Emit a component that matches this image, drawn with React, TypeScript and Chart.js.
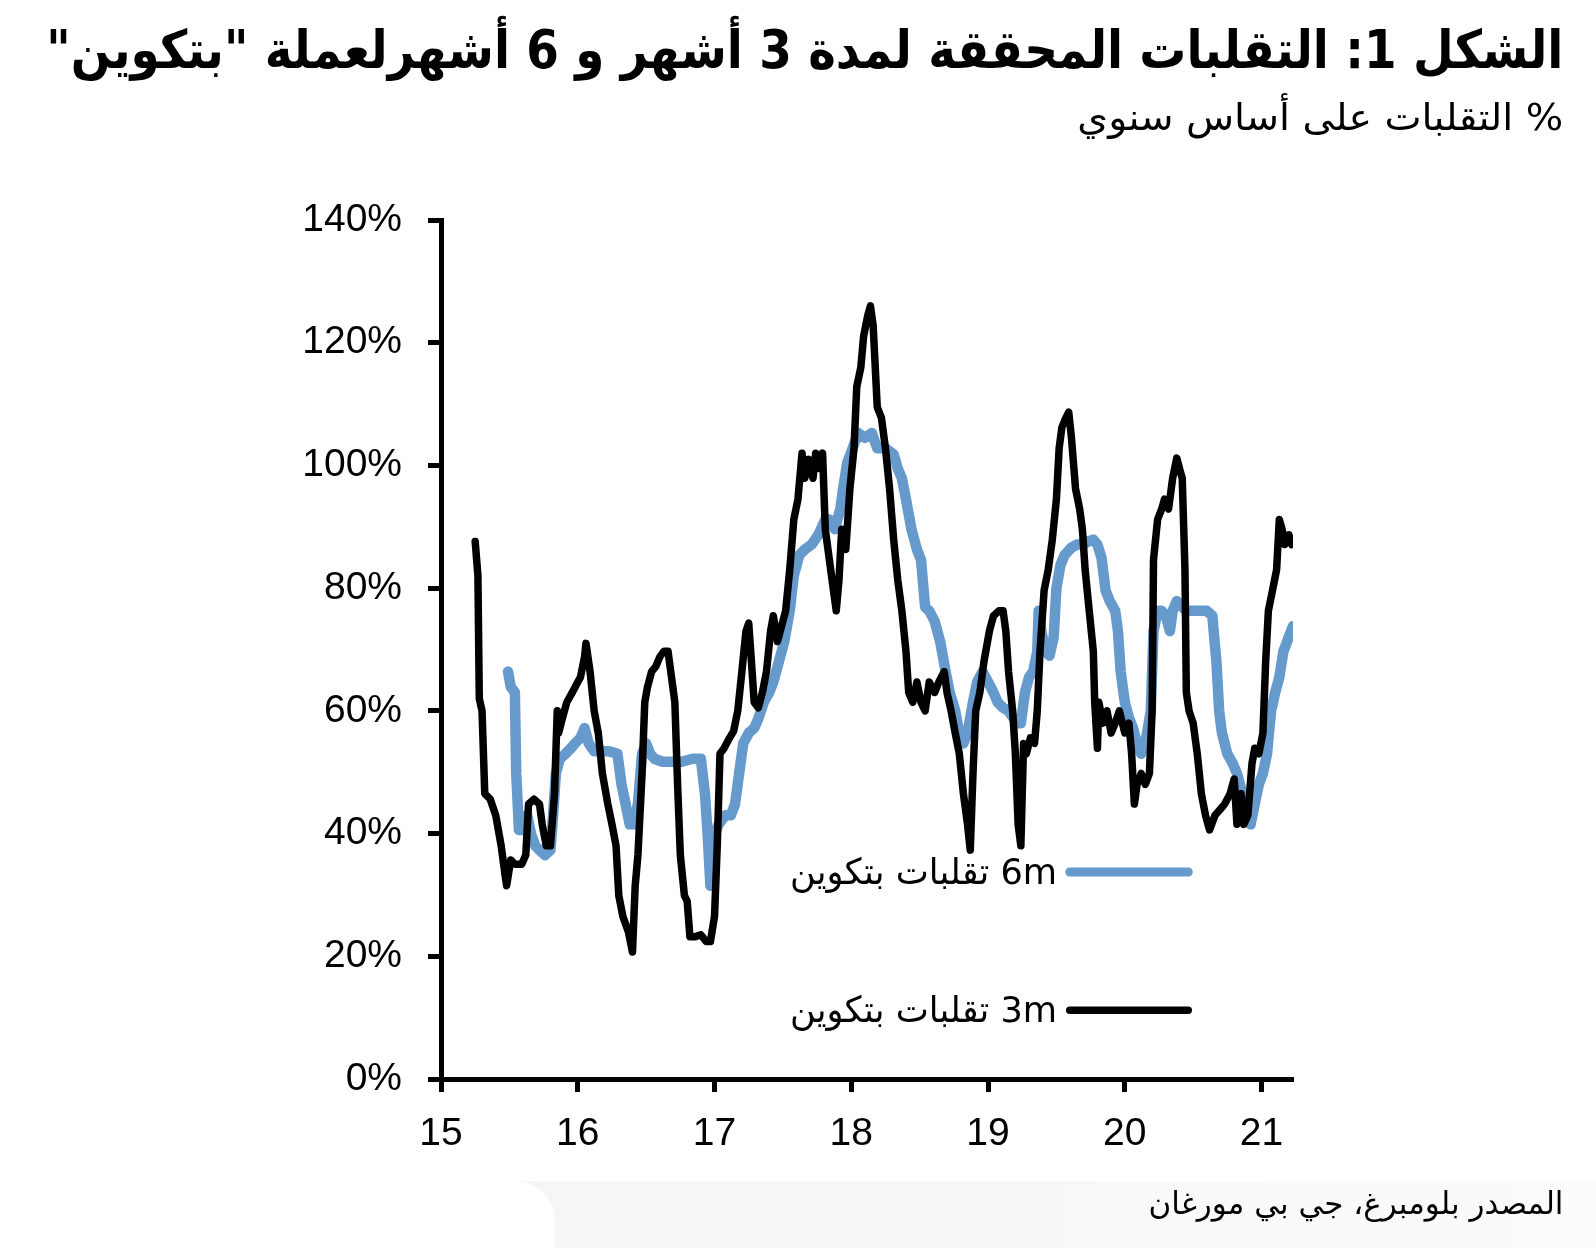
import React, { useEffect, useRef } from 'react';
import { Chart, registerables } from 'chart.js';

Chart.register(...registerables);

const TITLE = 'الشكل 1: التقلبات المحققة لمدة 3 أشهر و 6 أشهرلعملة "بتكوين"';
const SUBTITLE = '% التقلبات على أساس سنوي';
const SOURCE = 'المصدر بلومبرغ، جي بي مورغان';
const LABEL_6M = '6m تقلبات بتكوين';
const LABEL_3M = '3m تقلبات بتكوين';

const X_MIN = 15;
const X_MAX = 21.23;
const Y_MIN = 0;
const Y_MAX = 140;
const Y_STEP = 20;
const YEAR_TICKS = [15, 16, 17, 18, 19, 20, 21];

// 3-month realised volatility (black)
const years3m = [
  15.25, 15.27, 15.28, 15.30, 15.32, 15.36, 15.40, 15.44, 15.47, 15.48,
  15.51, 15.54, 15.59, 15.62, 15.64, 15.68, 15.72, 15.74, 15.77, 15.80,
  15.83, 15.85, 15.86, 15.89, 15.92, 15.96, 16.00, 16.02, 16.05, 16.06,
  16.09, 16.12, 16.15, 16.18, 16.22, 16.25, 16.28, 16.30, 16.33, 16.37,
  16.40, 16.42, 16.44, 16.47, 16.49, 16.51, 16.54, 16.57, 16.60, 16.63,
  16.66, 16.68, 16.71, 16.73, 16.75, 16.78, 16.80, 16.82, 16.86, 16.90,
  16.94, 16.97, 17.00, 17.02, 17.04, 17.07, 17.11, 17.14, 17.17, 17.20,
  17.23, 17.25, 17.27, 17.29, 17.32, 17.35, 17.38, 17.41, 17.43, 17.46,
  17.49, 17.52, 17.55, 17.58, 17.61, 17.64, 17.66, 17.69, 17.72, 17.74,
  17.77, 17.79, 17.81, 17.84, 17.87, 17.89, 17.91, 17.93, 17.96, 17.99,
  18.02, 18.04, 18.07, 18.09, 18.12, 18.14, 18.16, 18.19, 18.22, 18.25,
  18.28, 18.31, 18.34, 18.37, 18.40, 18.42, 18.45, 18.48, 18.51, 18.54,
  18.57, 18.61, 18.64, 18.68, 18.70, 18.73, 18.76, 18.79, 18.82, 18.85,
  18.87, 18.89, 18.91, 18.94, 18.97, 19.01, 19.04, 19.08, 19.11, 19.13,
  19.15, 19.18, 19.20, 19.22, 19.24, 19.26, 19.28, 19.31, 19.34, 19.36,
  19.38, 19.41, 19.44, 19.47, 19.50, 19.52, 19.54, 19.57, 19.59, 19.61,
  19.64, 19.67, 19.69, 19.71, 19.74, 19.77, 19.78, 19.80, 19.81, 19.84,
  19.87, 19.90, 19.93, 19.96, 20.00, 20.03, 20.05, 20.07, 20.09, 20.12,
  20.15, 20.18, 20.20, 20.21, 20.24, 20.27, 20.29, 20.32, 20.35, 20.38,
  20.40, 20.42, 20.44, 20.45, 20.47, 20.50, 20.53, 20.56, 20.59, 20.62,
  20.66, 20.70, 20.73, 20.77, 20.80, 20.82, 20.85, 20.87, 20.90, 20.93,
  20.95, 20.98, 21.01, 21.03, 21.05, 21.08, 21.11, 21.13, 21.15, 21.17,
  21.20, 21.22,
];
const vol3m = [
  87.6, 82.0, 62.0, 60.0, 46.5, 45.6, 43.0, 38.0, 33.0, 31.5,
  35.7, 35.0, 35.0, 36.5, 44.8, 45.6, 44.8, 41.5, 38.0, 38.0,
  46.5, 60.0, 56.4, 59.0, 61.4, 63.0, 64.7, 65.5, 68.8, 71.0,
  66.4, 60.0, 56.4, 49.8, 44.8, 41.5, 38.0, 29.9, 26.5, 24.0,
  20.7, 31.5, 36.5, 49.8, 61.4, 63.9, 66.4, 67.2, 68.8, 69.7,
  69.7, 66.4, 61.4, 48.0, 36.5, 29.9, 29.0, 23.2, 23.2, 23.5,
  22.4, 22.4, 26.5, 38.0, 53.0, 53.9, 55.6, 56.7, 60.0, 66.4,
  73.0, 74.3, 68.0, 61.4, 60.5, 63.0, 66.4, 73.0, 75.5, 71.3,
  73.8, 76.3, 83.0, 91.2, 94.5, 102.0, 97.9, 101.0, 97.9, 102.0,
  99.5, 102.0, 89.6, 84.6, 79.6, 76.3, 81.3, 89.6, 86.3, 96.2,
  102.8, 112.8, 116.0, 121.0, 124.4, 126.0, 122.8, 109.5, 107.8, 102.8,
  96.2, 87.9, 81.3, 76.3, 69.7, 63.0, 61.4, 64.7, 61.4, 60.0,
  64.7, 63.0, 64.7, 66.4, 63.0, 60.0, 56.4, 53.0, 46.5, 41.5,
  37.3, 49.8, 60.0, 63.0, 68.0, 73.0, 75.5, 76.3, 76.3, 73.0,
  66.4, 60.0, 53.0, 41.5, 38.0, 54.7, 53.0, 55.6, 54.7, 60.0,
  69.7, 79.6, 83.0, 87.9, 94.5, 102.8, 106.2, 107.8, 108.7, 104.5,
  96.2, 92.9, 89.6, 83.0, 76.3, 69.7, 61.4, 53.9, 61.4, 58.0,
  60.0, 56.4, 58.0, 60.0, 56.4, 58.0, 53.0, 44.8, 48.0, 49.8,
  48.0, 49.8, 60.0, 84.6, 91.2, 92.9, 94.5, 92.9, 97.9, 101.2,
  99.5, 97.9, 83.0, 63.0, 60.0, 58.0, 53.0, 46.5, 43.0, 40.6,
  43.0, 44.0, 44.8, 46.5, 48.9, 41.5, 46.5, 41.5, 43.0, 51.4,
  53.9, 53.0, 56.4, 68.0, 76.3, 79.6, 83.0, 91.2, 89.6, 87.1,
  88.7, 87.1,
];

// 6-month realised volatility (blue)
const years6m = [
  15.49, 15.51, 15.54, 15.55, 15.57, 15.60, 15.63, 15.66, 15.69, 15.72,
  15.76, 15.80, 15.82, 15.84, 15.87, 15.91, 15.95, 15.98, 16.02, 16.05,
  16.08, 16.12, 16.17, 16.23, 16.29, 16.32, 16.35, 16.38, 16.41, 16.44,
  16.47, 16.50, 16.53, 16.56, 16.62, 16.69, 16.76, 16.84, 16.90, 16.93,
  16.95, 16.97, 17.00, 17.03, 17.08, 17.12, 17.15, 17.18, 17.21, 17.25,
  17.29, 17.32, 17.36, 17.40, 17.43, 17.47, 17.51, 17.55, 17.58, 17.62,
  17.66, 17.71, 17.76, 17.81, 17.84, 17.88, 17.92, 17.94, 17.97, 18.01,
  18.05, 18.10, 18.15, 18.19, 18.25, 18.31, 18.34, 18.37, 18.40, 18.44,
  18.48, 18.51, 18.54, 18.57, 18.61, 18.65, 18.69, 18.72, 18.76, 18.79,
  18.82, 18.85, 18.89, 18.92, 18.96, 19.00, 19.04, 19.07, 19.11, 19.15,
  19.18, 19.22, 19.24, 19.27, 19.30, 19.33, 19.36, 19.37, 19.39, 19.42,
  19.45, 19.48, 19.50, 19.53, 19.56, 19.61, 19.65, 19.70, 19.73, 19.77,
  19.80, 19.83, 19.86, 19.89, 19.93, 19.95, 19.97, 20.00, 20.03, 20.06,
  20.09, 20.12, 20.15, 20.19, 20.21, 20.24, 20.27, 20.30, 20.33, 20.35,
  20.38, 20.41, 20.45, 20.49, 20.52, 20.56, 20.60, 20.64, 20.67, 20.69,
  20.71, 20.75, 20.79, 20.82, 20.86, 20.89, 20.92, 20.95, 20.98, 21.01,
  21.04, 21.07, 21.10, 21.13, 21.16, 21.20, 21.23,
];
const vol6m = [
  66.4, 63.9, 63.0, 49.8, 40.6, 40.6, 43.0, 39.8, 38.0, 37.3,
  36.5, 37.3, 43.0, 49.8, 52.2, 53.0, 53.9, 54.7, 55.6, 57.2,
  54.7, 53.4, 53.4, 53.4, 53.0, 48.0, 44.8, 41.5, 41.5, 44.8,
  53.0, 54.7, 53.0, 52.2, 51.7, 51.7, 51.7, 52.2, 52.2, 46.5,
  39.8, 31.5, 39.8, 41.5, 43.0, 43.0, 44.8, 49.8, 54.7, 56.4,
  57.2, 58.7, 61.4, 63.0, 64.7, 68.0, 71.3, 76.3, 82.1, 85.4,
  86.3, 87.1, 88.7, 91.2, 91.2, 89.6, 92.9, 96.2, 100.4, 102.8,
  105.3, 104.5, 105.3, 102.8, 102.8, 101.8, 99.5, 97.9, 94.5, 89.6,
  86.3, 84.6, 76.9, 76.3, 74.6, 71.3, 66.4, 63.0, 60.0, 56.4,
  54.7, 56.4, 61.4, 64.7, 66.4, 64.7, 63.0, 61.4, 60.5, 60.0,
  59.0, 58.0, 58.0, 63.0, 65.5, 66.4, 69.7, 76.3, 73.0, 69.7,
  69.0, 72.0, 80.0, 83.8, 85.4, 86.6, 87.1, 87.1, 87.6, 87.9,
  87.1, 84.9, 79.6, 77.9, 76.3, 73.0, 66.4, 61.4, 58.9, 57.2,
  54.7, 53.0, 54.7, 60.0, 73.0, 76.3, 76.3, 75.5, 73.0, 76.3,
  77.9, 77.1, 76.3, 76.3, 76.3, 76.3, 76.3, 75.5, 68.0, 60.0,
  56.4, 53.0, 51.4, 49.8, 46.5, 42.3, 41.5, 44.8, 48.0, 49.8,
  53.0, 60.0, 63.0, 65.5, 69.7, 72.1, 73.8,
];

const BLUE = '#6699cc';
const BLACK = '#000000';
const AXIS_FONT = '"Liberation Sans", Arial, sans-serif';
const ARABIC_FONT = '"DejaVu Sans", sans-serif';
const YEAR_TICKS_SET = new Set(YEAR_TICKS);

const toPoints = (xs: number[], ys: number[]) => xs.map((x, i) => ({ x, y: ys[i] }));

// legend drawn inside the plot area, placed as fractions of the chart area
const insideLegend = {
  id: 'insideLegend',
  afterDatasetsDraw(chart: any) {
    const { ctx, chartArea: a } = chart;
    const w = a.right - a.left;
    const h = a.bottom - a.top;
    const rows = [
      { ds: chart.data.datasets[1], fy: 0.759, lw: 9 },
      { ds: chart.data.datasets[0], fy: 0.92, lw: 7.5 },
    ];
    const lineX0 = a.left + w * 0.738;
    const lineX1 = a.left + w * 0.877;
    const textRight = a.left + w * 0.723;
    const targetW = 267;
    ctx.save();
    rows.forEach((r) => {
      const y = a.top + h * r.fy;
      ctx.beginPath();
      ctx.strokeStyle = r.ds.borderColor;
      ctx.lineWidth = r.lw;
      ctx.lineCap = 'round';
      ctx.moveTo(lineX0, y);
      ctx.lineTo(lineX1, y);
      ctx.stroke();
      ctx.font = `36px ${ARABIC_FONT}`;
      ctx.fillStyle = '#000';
      (ctx as any).direction = 'rtl';
      ctx.textAlign = 'right';
      ctx.textBaseline = 'alphabetic';
      const mw = ctx.measureText(r.ds.label).width;
      const sx = targetW / mw;
      ctx.save();
      ctx.translate(textRight, y + 12);
      ctx.scale(sx, 1);
      ctx.fillText(r.ds.label, 0, 0);
      ctx.restore();
    });
    ctx.restore();
  },
};

function FitText({ text, width, fontSize, top, right, weight }: any) {
  const ref = useRef<HTMLDivElement>(null);
  useEffect(() => {
    const el = ref.current;
    if (!el) return;
    el.style.transform = 'none';
    const w = el.getBoundingClientRect().width;
    if (w > 0) el.style.transform = `scaleX(${width / w})`;
  }, [text, width]);
  return (
    <div
      ref={ref}
      dir="rtl"
      style={{
        position: 'absolute',
        top,
        right,
        fontFamily: ARABIC_FONT,
        fontSize,
        fontWeight: weight,
        lineHeight: 1,
        whiteSpace: 'nowrap',
        color: '#000',
        transformOrigin: 'right center',
      }}
    >
      {text}
    </div>
  );
}

export default function App() {
  const canvasRef = useRef<HTMLCanvasElement>(null);

  useEffect(() => {
    document.body.style.margin = '0';
    const canvas = canvasRef.current;
    if (!canvas) return;
    const chart = new Chart(canvas, {
      type: 'line',
      data: {
        datasets: [
          {
            label: LABEL_3M,
            data: toPoints(years3m, vol3m),
            borderColor: BLACK,
            backgroundColor: BLACK,
            borderWidth: 7.5,
            pointRadius: 0,
            tension: 0,
            borderJoinStyle: 'round',
            borderCapStyle: 'round',
          },
          {
            label: LABEL_6M,
            data: toPoints(years6m, vol6m),
            borderColor: BLUE,
            backgroundColor: BLUE,
            borderWidth: 10.5,
            pointRadius: 0,
            tension: 0,
            borderJoinStyle: 'round',
            borderCapStyle: 'round',
          },
        ],
      },
      options: {
        responsive: false,
        animation: false,
        devicePixelRatio: 1,
        layout: { padding: { left: 0, top: 220, right: 303, bottom: 0 } },
        plugins: {
          legend: { display: false },
          tooltip: { enabled: false },
          title: { display: false },
        },
        scales: {
          x: {
            type: 'linear',
            min: X_MIN,
            max: X_MAX,
            afterFit: (s: any) => {
              s.height = 169;
            },
            ticks: {
              stepSize: 1,
              includeBounds: false,
              color: '#000',
              padding: 19,
              font: { family: AXIS_FONT, size: 39 },
              callback: (v: any) => (YEAR_TICKS_SET.has(Number(v)) ? String(v) : ''),
            },
            grid: {
              display: true,
              drawOnChartArea: false,
              drawTicks: true,
              tickLength: 13,
              tickWidth: 5,
              tickColor: '#000',
            },
            border: { display: true, color: '#000', width: 5 },
          },
          y: {
            min: Y_MIN,
            max: Y_MAX,
            afterFit: (s: any) => {
              s.width = 441;
            },
            ticks: {
              stepSize: Y_STEP,
              color: '#000',
              padding: 26,
              font: { family: AXIS_FONT, size: 39 },
              callback: (v: any) => `${v}%`,
            },
            grid: {
              display: true,
              drawOnChartArea: false,
              drawTicks: true,
              tickLength: 13,
              tickWidth: 5,
              tickColor: '#000',
            },
            border: { display: true, color: '#000', width: 5 },
          },
        },
      },
      plugins: [insideLegend],
    } as any);
    return () => chart.destroy();
  }, []);

  return (
    <div style={{ position: 'absolute', left: 0, top: 0, width: 1596, height: 1248, background: '#fff', overflow: 'hidden' }}>
      <div
        style={{
          position: 'absolute',
          left: 0,
          top: 1181,
          width: 1596,
          height: 67,
          background: 'linear-gradient(to right, #f3f3f3, #fbfbfb)',
        }}
      />
      <div
        style={{
          position: 'absolute',
          left: 0,
          top: 1181,
          width: 555,
          height: 67,
          background: '#fff',
          borderTopRightRadius: 40,
        }}
      />
      <canvas ref={canvasRef} width={1596} height={1248} style={{ position: 'absolute', left: 0, top: 0, width: 1596, height: 1248 }} />
      <FitText text={TITLE} width={1517} fontSize={53} top={23} right={33} weight={700} />
      <FitText text={SUBTITLE} width={486} fontSize={37} top={99} right={33} weight={400} />
      <FitText text={SOURCE} width={415} fontSize={31} top={1188} right={33} weight={400} />
    </div>
  );
}
